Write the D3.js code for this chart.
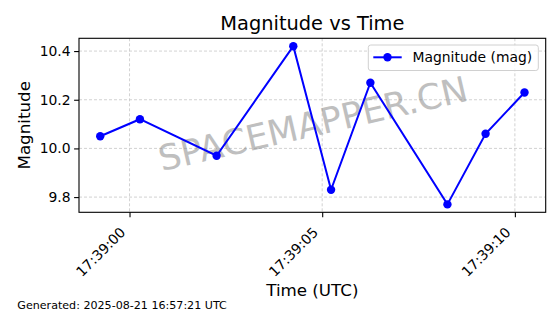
<!DOCTYPE html>
<html>
<head>
<meta charset="utf-8">
<script src="https://cdn.jsdelivr.net/npm/d3@7"></script>
<style>
  html, body { margin: 0; padding: 0; background: #fff; }
  svg { display: block; font-family: "DejaVu Sans", sans-serif; }
</style>
</head>
<body>
<svg id="chart" width="560" height="314"></svg>
<script>
const times = ["17:38:59.24", "17:39:00.27", "17:39:02.26", "17:39:04.25", "17:39:05.23",
               "17:39:06.25", "17:39:08.25", "17:39:09.24", "17:39:10.25"];
const magnitudes = [10.05, 10.12, 9.97, 10.42, 9.83, 10.27, 9.77, 10.06, 10.23];
const yTicks = [9.8, 10.0, 10.2, 10.4];
const title = "Magnitude vs Time";
const xLabel = "Time (UTC)";
const yLabel = "Magnitude";
const seriesName = "Magnitude (mag)";
const footer = "Generated: 2025-08-21 16:57:21 UTC";
const watermark = "SPACEMAPPER.CN";

const parse = s => new Date("2025-08-21T" + s + "Z");
const data = times.map((t, i) => ({ t: parse(t), v: magnitudes[i] }));

const svg = d3.select("#chart");
const L = 79, R = 545.7, T = 38.3, B = 212.3;

const tExt = d3.extent(data, d => +d.t);
const tPad = (tExt[1] - tExt[0]) * 0.05;
const x = d3.scaleUtc().domain([new Date(tExt[0] - tPad), new Date(tExt[1] + tPad)]).range([L, R]);
const vExt = d3.extent(data, d => d.v);
const vPad = (vExt[1] - vExt[0]) * 0.05;
const y = d3.scaleLinear().domain([vExt[0] - vPad, vExt[1] + vPad]).range([B, T]);

const xTickVals = x.ticks(d3.utcSecond.every(5));
const fmtT = d3.utcFormat("%H:%M:%S");

// grid
const grid = svg.append("g").attr("stroke", "#b0b0b0").attr("stroke-width", 0.8)
  .attr("stroke-dasharray", "3,2").attr("opacity", 0.7);
grid.selectAll(".gx").data(xTickVals).enter().append("line")
  .attr("x1", d => x(d)).attr("x2", d => x(d)).attr("y1", T).attr("y2", B);
grid.selectAll(".gy").data(yTicks).enter().append("line")
  .attr("x1", L).attr("x2", R).attr("y1", d => y(d)).attr("y2", d => y(d));

// watermark
svg.append("text")
  .attr("transform", `translate(312.9,123.3) rotate(-13)`)
  .attr("text-anchor", "middle").attr("dy", "0.365em")
  .attr("font-size", 35.2).attr("fill", "#808080").attr("opacity", 0.5)
  .text(watermark);

// line & markers
const line = d3.line().x(d => x(d.t)).y(d => y(d.v));
svg.append("path").datum(data).attr("d", line)
  .attr("fill", "none").attr("stroke", "#0000ff").attr("stroke-width", 2);
svg.selectAll(".pt").data(data).enter().append("circle")
  .attr("cx", d => x(d.t)).attr("cy", d => y(d.v)).attr("r", 4.2).attr("fill", "#0000ff");

// axes
const xAxis = d3.axisBottom(x).tickValues(xTickVals).tickFormat(fmtT).tickSizeOuter(0).tickSize(4.9).tickPadding(3);
const gx = svg.append("g").attr("transform", `translate(0,${B})`).call(xAxis);
gx.select(".domain").remove();
gx.selectAll("line").attr("stroke", "#000").attr("stroke-width", 1.1);
gx.selectAll("text").attr("font-size", 13.9).attr("fill", "#000")
  .attr("font-family", "DejaVu Sans")
  .attr("text-anchor", "end").attr("dy", null)
  .attr("y", 0).attr("x", 0)
  .attr("transform", "translate(-3.8,21) rotate(-45)");

const yAxis = d3.axisLeft(y).tickValues(yTicks).tickFormat(d3.format(".1f")).tickSizeOuter(0).tickSize(4.9).tickPadding(3.5);
const gy = svg.append("g").attr("transform", `translate(${L},0)`).call(yAxis);
gy.select(".domain").remove();
gy.selectAll("line").attr("stroke", "#000").attr("stroke-width", 1.1);
gy.selectAll("text").attr("font-size", 13.9).attr("fill", "#000").attr("font-family", "DejaVu Sans");

// frame
svg.append("rect").attr("x", L).attr("y", T).attr("width", R - L).attr("height", B - T)
  .attr("fill", "none").attr("stroke", "#000").attr("stroke-width", 1.1);

// legend
const lg = svg.append("g");
lg.append("rect").attr("x", 368.3).attr("y", 45).attr("width", 170).attr("height", 25.5)
  .attr("rx", 2.5).attr("fill", "#fff").attr("fill-opacity", 0.8).attr("stroke", "#d0d0d0").attr("stroke-width", 1);
lg.append("line").attr("x1", 373.3).attr("x2", 401.7).attr("y1", 57.3).attr("y2", 57.3)
  .attr("stroke", "#0000ff").attr("stroke-width", 2);
lg.append("circle").attr("cx", 387.5).attr("cy", 57.3).attr("r", 4.2).attr("fill", "#0000ff");
lg.append("text").attr("x", 412.5).attr("y", 62.3).attr("font-size", 13.9).attr("fill", "#000").text(seriesName);

// titles
svg.append("text").attr("x", (L + R) / 2).attr("y", 29.5).attr("text-anchor", "middle")
  .attr("font-size", 19.4).attr("fill", "#000").text(title);
svg.append("text").attr("x", (L + R) / 2).attr("y", 295.5).attr("text-anchor", "middle")
  .attr("font-size", 16.7).attr("fill", "#000").text(xLabel);
svg.append("text").attr("transform", `translate(30,${(T + B) / 2}) rotate(-90)`).attr("text-anchor", "middle")
  .attr("font-size", 16.7).attr("fill", "#000").text(yLabel);
svg.append("text").attr("x", 17.3).attr("y", 308.5).attr("font-size", 11.1).attr("fill", "#000").text(footer);
</script>
</body>
</html>
